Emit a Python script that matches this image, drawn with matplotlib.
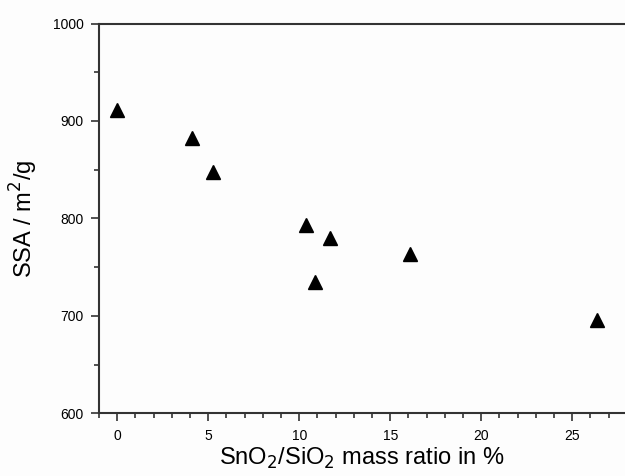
import matplotlib
matplotlib.use("Agg")
import matplotlib.pyplot as plt
from matplotlib.ticker import MultipleLocator

plt.rcParams['font.family'] = ['Liberation Sans', 'DejaVu Sans']

ratio = [0.0, 4.09, 5.27, 10.37, 10.88, 11.69, 16.07, 26.34]
ssa = [911, 883, 848, 793, 735, 780, 763, 696]

fig = plt.figure(figsize=(6.25, 4.76), dpi=100)
fig.patch.set_facecolor('#fdfdfd')
ax = fig.add_axes([0.1584, 0.1317, 0.8416, 0.8189])
ax.set_facecolor('#fdfdfd')

ax.plot(ratio, ssa, linestyle='none', marker='^', ms=10, color='black')

ax.set_xlim(-1, 27.9)
ax.set_ylim(600, 1000)
ax.xaxis.set_major_locator(MultipleLocator(5))
ax.xaxis.set_minor_locator(MultipleLocator(1))
ax.yaxis.set_major_locator(MultipleLocator(100))
ax.yaxis.set_minor_locator(MultipleLocator(50))

spc = '#333333'
for s in ['left', 'bottom', 'top']:
    ax.spines[s].set_color(spc)
    ax.spines[s].set_linewidth(1.5)
ax.spines['right'].set_visible(False)

ax.tick_params(which='major', direction='out', length=6, width=1.2, color=spc,
               labelsize=10, pad=5)
ax.tick_params(which='minor', direction='out', length=3.5, width=1.2, color=spc)
ax.tick_params(axis='x', which='both', top=False)

ax.set_xlabel('SnO$_2$/SiO$_2$ mass ratio in %', fontsize=17, labelpad=2)
ax.set_ylabel('SSA / m$^2$/g', fontsize=17, labelpad=9)

fig.savefig('out.png', dpi=100, facecolor=fig.get_facecolor())
